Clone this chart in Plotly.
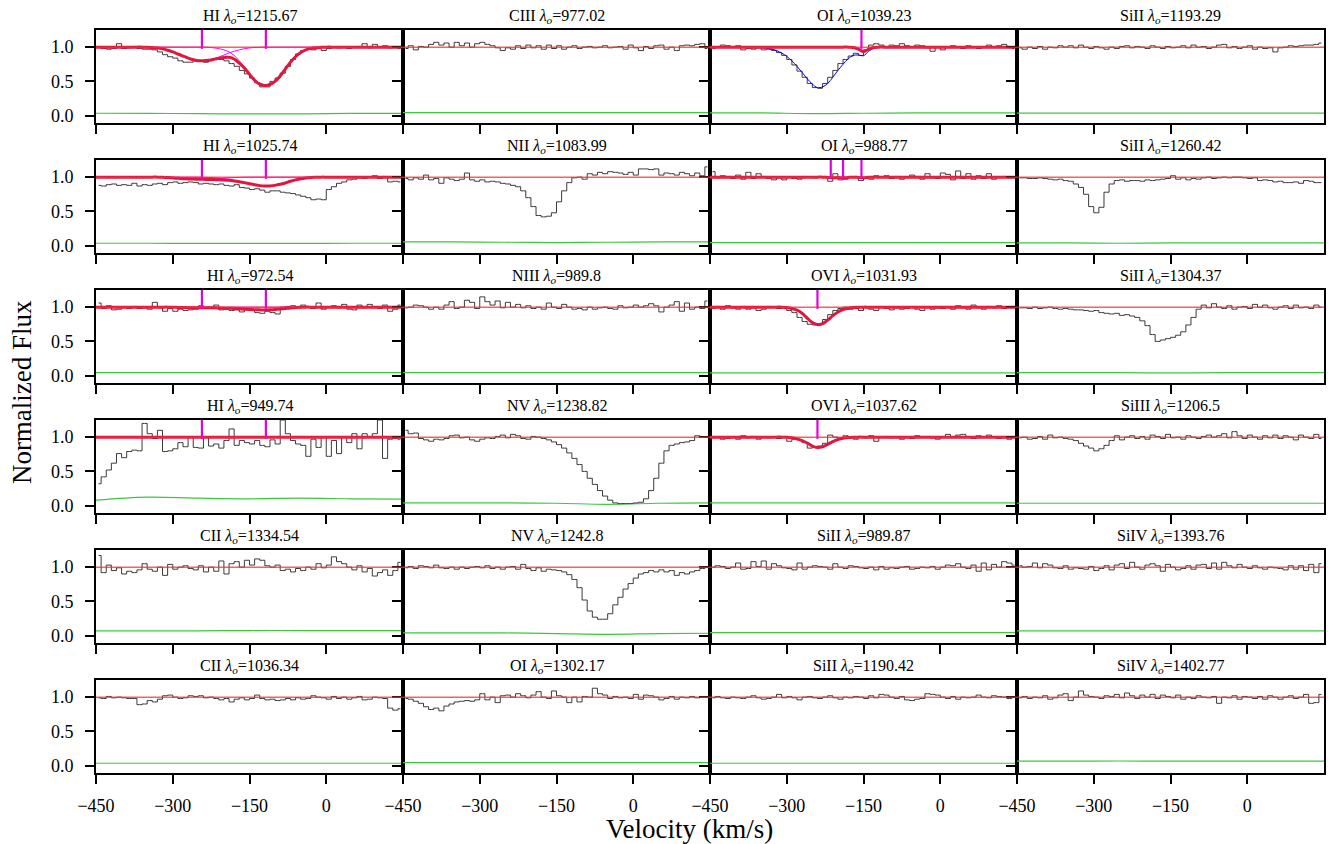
import plotly.graph_objects as go

# ---------------- grids ----------------
VEL = list(range(-445, 150, 10))          # bin centres (km/s), 60 bins
FIT_VEL = list(range(-450, 151, 10))      # model grid, 61 points
ERR_VEL = [-450, -350, -250, -150, -50, 50, 150]
X_TICKS = [-450, -300, -150, 0]
X_TICK_TEXT = ["\u2212450", "\u2212300", "\u2212150", "0"]
Y_TICKS = [0.0, 0.5, 1.0]
CONTINUUM = 1.0

# ---------------- panel labels (row-major) ----------------
IONS = ["HI", "CIII", "OI", "SiII",
        "HI", "NII", "OI", "SiII",
        "HI", "NIII", "OVI", "SiII",
        "HI", "NV", "OVI", "SiIII",
        "CII", "NV", "SiII", "SiIV",
        "CII", "OI", "SiII", "SiIV"]
LAMBDAS = ["1215.67", "977.02", "1039.23", "1193.29",
           "1025.74", "1083.99", "988.77", "1260.42",
           "972.54", "989.8", "1031.93", "1304.37",
           "949.74", "1238.82", "1037.62", "1206.5",
           "1334.54", "1242.8", "989.87", "1393.76",
           "1036.34", "1302.17", "1190.42", "1402.77"]

# ---------------- normalized flux ----------------
FLUX_HI_1215 = [1.01, 0.98, 0.97, 0.98, 1.05, 0.98, 0.99, 1.01, 0.98, 0.97,
                0.97, 0.96, 0.93, 0.89, 0.86, 0.84, 0.80, 0.78, 0.78, 0.80,
                0.79, 0.78, 0.82, 0.83, 0.82, 0.80, 0.76, 0.72, 0.66, 0.61,
                0.55, 0.48, 0.42, 0.42, 0.50, 0.55, 0.62, 0.72, 0.82, 0.90,
                0.95, 0.97, 0.96, 0.99, 0.95, 0.98, 1.00, 0.99, 1.00, 0.98,
                1.00, 1.01, 1.05, 0.99, 1.04, 1.00, 1.02, 0.99, 1.01, 0.98]
FLUX_CIII_977 = [0.98, 1.02, 0.96, 1.01, 1.00, 1.04, 1.07, 1.03, 1.06, 1.00,
                 1.07, 1.02, 1.06, 1.00, 1.05, 1.07, 1.04, 1.02, 0.99, 0.95,
                 0.99, 0.97, 1.02, 0.98, 1.03, 0.99, 1.02, 0.97, 1.03, 0.98,
                 1.02, 0.97, 1.00, 1.02, 0.98, 1.00, 1.01, 0.99, 1.00, 1.02,
                 0.99, 1.00, 1.01, 0.97, 1.03, 0.99, 0.95, 1.01, 0.98, 1.02,
                 1.03, 0.97, 1.00, 0.95, 1.02, 1.03, 1.02, 1.04, 1.05, 0.98]
FLUX_OI_1039 = [0.98, 1.00, 1.03, 1.02, 1.00, 1.02, 0.96, 0.98, 0.97, 0.99,
                0.96, 0.97, 0.95, 0.92, 0.88, 0.82, 0.74, 0.65, 0.56, 0.47,
                0.41, 0.40, 0.47, 0.56, 0.66, 0.76, 0.82, 0.87, 0.91, 0.88,
                0.96, 1.03, 1.05, 1.03, 1.00, 1.03, 1.02, 1.05, 1.02, 1.00,
                1.03, 1.02, 0.99, 0.94, 1.00, 0.96, 1.00, 1.02, 1.00, 0.98,
                1.02, 1.00, 0.98, 1.00, 1.03, 1.00, 1.02, 1.04, 1.00, 0.98]
FLUX_SiII_1193 = [0.99, 0.97, 1.00, 0.98, 1.01, 0.97, 1.00, 0.99, 1.02, 1.00,
                  1.02, 0.99, 1.03, 1.00, 0.98, 1.01, 0.99, 0.97, 1.00, 0.98,
                  1.01, 1.02, 0.99, 1.01, 1.00, 0.98, 1.02, 1.00, 0.98, 1.01,
                  0.99, 1.00, 1.02, 0.99, 1.03, 1.00, 1.01, 0.98, 1.00, 1.03,
                  1.04, 0.99, 1.01, 0.98, 1.00, 1.02, 0.97, 1.00, 0.98, 0.99,
                  0.93, 0.99, 1.00, 1.02, 1.01, 1.02, 1.03, 1.03, 1.04, 1.06]
FLUX_HI_1025 = [0.88, 0.87, 0.89, 0.90, 0.88, 0.89, 0.88, 0.91, 0.87, 0.89,
                0.88, 0.90, 0.91, 0.89, 0.92, 0.93, 0.91, 0.92, 0.93, 0.92,
                0.90, 0.91, 0.90, 0.89, 0.90, 0.88, 0.87, 0.89, 0.85, 0.84,
                0.82, 0.83, 0.81, 0.78, 0.80, 0.80, 0.78, 0.77, 0.76, 0.74,
                0.72, 0.70, 0.67, 0.68, 0.67, 0.82, 0.86, 0.91, 0.93, 0.96,
                0.97, 0.99, 0.98, 1.00, 1.02, 0.98, 1.01, 0.93, 0.94, 0.93]
FLUX_NII_1084 = [0.98, 0.96, 0.99, 0.97, 1.03, 0.96, 0.98, 0.91, 0.99, 0.97,
                 0.95, 0.97, 1.06, 0.96, 0.94, 0.96, 0.93, 0.94, 0.93, 0.91,
                 0.90, 0.88, 0.86, 0.80, 0.70, 0.57, 0.44, 0.42, 0.43, 0.48,
                 0.64, 0.80, 0.92, 0.99, 1.00, 0.97, 1.05, 1.03, 1.07, 1.05,
                 1.08, 1.07, 1.06, 1.04, 1.07, 1.03, 1.12, 1.12, 1.11, 1.12,
                 1.03, 1.06, 1.05, 1.03, 1.07, 1.05, 1.02, 1.06, 1.02, 1.15]
FLUX_OI_988 = [1.08, 0.99, 1.02, 1.01, 0.98, 1.03, 0.97, 1.07, 0.98, 1.05,
               1.01, 0.98, 0.96, 0.99, 0.96, 1.00, 0.98, 0.97, 1.01, 1.00,
               0.99, 1.00, 1.01, 0.94, 1.05, 0.96, 0.97, 1.00, 1.01, 0.95,
               0.98, 0.97, 1.02, 1.00, 1.02, 0.98, 1.01, 0.97, 1.00, 1.03,
               1.01, 0.97, 1.05, 0.99, 0.98, 1.06, 1.04, 0.96, 1.09, 0.98,
               1.05, 0.97, 1.02, 0.98, 1.05, 0.97, 1.00, 1.01, 0.99, 1.00]
FLUX_SiII_1260 = [0.99, 0.99, 0.98, 0.98, 0.99, 0.98, 0.97, 0.96, 0.97, 0.95,
                  0.94, 0.90, 0.85, 0.75, 0.57, 0.48, 0.56, 0.78, 0.90, 0.95,
                  0.96, 0.94, 0.95, 0.95, 0.94, 0.96, 0.95, 0.96, 0.97, 0.98,
                  1.02, 0.97, 0.99, 0.96, 0.98, 0.97, 0.99, 1.00, 0.98, 0.99,
                  1.00, 0.99, 1.00, 1.00, 0.99, 0.98, 0.99, 0.95, 0.96, 0.95,
                  0.93, 0.94, 0.92, 0.92, 0.93, 0.91, 0.95, 0.94, 0.92, 0.92]
FLUX_HI_972 = [1.06, 0.98, 1.02, 0.96, 0.97, 1.00, 0.98, 1.01, 0.98, 0.99,
               0.97, 1.07, 0.99, 0.94, 0.98, 0.94, 0.97, 0.95, 0.96, 0.97,
               1.02, 0.98, 1.00, 1.03, 0.96, 0.97, 0.95, 0.96, 0.93, 0.96,
               0.95, 0.92, 0.91, 0.94, 0.92, 0.90, 1.00, 1.01, 1.02, 0.99,
               1.03, 1.00, 0.98, 1.06, 0.97, 1.00, 1.02, 0.99, 1.04, 0.97,
               0.96, 1.03, 0.99, 1.04, 1.00, 0.98, 1.03, 0.94, 0.97, 1.03]
FLUX_NIII_990 = [0.99, 1.00, 1.03, 1.02, 1.00, 0.97, 1.00, 0.97, 1.03, 1.08,
                 0.98, 1.00, 1.10, 1.07, 0.98, 1.15, 1.08, 1.03, 1.09, 0.99,
                 1.07, 1.00, 1.04, 0.99, 1.02, 0.98, 1.00, 0.97, 1.06, 1.00,
                 0.98, 1.04, 1.00, 0.97, 0.98, 0.96, 1.00, 0.97, 0.99, 1.00,
                 0.98, 0.97, 1.02, 0.99, 1.00, 1.03, 1.00, 1.02, 1.05, 1.02,
                 0.93, 1.00, 1.03, 1.08, 0.94, 1.06, 0.97, 1.00, 0.98, 1.09]
FLUX_OVI_1032 = [0.98, 1.01, 0.97, 1.02, 0.99, 0.97, 1.01, 0.97, 0.99, 0.95,
                 0.97, 1.01, 1.00, 0.98, 1.01, 0.95, 0.92, 0.85, 0.79, 0.75,
                 0.74, 0.76, 0.82, 0.89, 0.95, 0.98, 1.00, 0.97, 0.98, 0.95,
                 0.99, 0.97, 0.95, 1.00, 0.98, 0.96, 0.99, 0.97, 0.98, 1.00,
                 0.97, 0.95, 1.00, 0.97, 0.99, 0.98, 1.00, 0.97, 1.02, 0.99,
                 0.97, 1.03, 0.99, 0.97, 1.01, 0.99, 1.02, 0.98, 1.00, 1.01]
FLUX_SiII_1304 = [0.99, 0.99, 0.98, 1.00, 0.98, 0.99, 1.00, 0.98, 0.97, 0.98,
                  0.97, 0.96, 0.96, 0.95, 0.94, 0.95, 0.92, 0.91, 0.90, 0.91,
                  0.88, 0.89, 0.87, 0.85, 0.80, 0.73, 0.60, 0.50, 0.52, 0.54,
                  0.56, 0.59, 0.64, 0.74, 0.85, 0.97, 1.03, 0.99, 1.05, 1.00,
                  0.98, 1.02, 0.97, 1.00, 1.01, 0.98, 1.04, 1.00, 1.03, 0.99,
                  0.97, 1.00, 1.02, 0.98, 1.03, 0.99, 1.00, 0.98, 1.03, 1.00]
FLUX_HI_950 = [0.32, 0.42, 0.52, 0.62, 0.76, 0.70, 0.79, 0.81, 0.80, 1.20,
               1.05, 0.98, 1.10, 0.79, 0.80, 0.83, 0.92, 0.86, 1.00, 0.85,
               0.84, 1.00, 0.87, 0.90, 0.84, 0.95, 1.12, 0.88, 0.95, 0.92,
               0.90, 0.95, 0.88, 0.86, 0.96, 0.90, 1.25, 1.05, 0.95, 0.90,
               0.88, 0.72, 0.97, 0.85, 1.00, 0.72, 0.95, 0.76, 1.00, 0.92,
               1.05, 0.83, 1.05, 1.00, 1.05, 1.25, 0.69, 0.97, 0.98, 0.97]
FLUX_NV_1239 = [1.10, 1.05, 1.06, 0.98, 0.96, 0.94, 0.97, 0.96, 0.98, 1.02,
                1.03, 0.99, 1.00, 0.96, 0.94, 0.97, 0.99, 0.98, 1.01, 1.03,
                0.99, 1.04, 1.02, 0.98, 0.97, 1.01, 1.00, 0.98, 0.96, 0.93,
                0.89, 0.84, 0.77, 0.69, 0.60, 0.50, 0.40, 0.31, 0.22, 0.14,
                0.08, 0.04, 0.03, 0.03, 0.03, 0.04, 0.05, 0.10, 0.22, 0.40,
                0.62, 0.80, 0.88, 0.90, 0.92, 0.93, 0.95, 1.02, 1.00, 1.01]
FLUX_OVI_1038 = [0.99, 1.00, 0.97, 0.98, 1.00, 0.97, 1.02, 0.99, 1.01, 0.97,
                 1.00, 0.99, 1.00, 0.98, 1.01, 0.94, 0.97, 0.96, 0.92, 0.84,
                 0.85, 0.87, 0.91, 1.03, 1.00, 0.98, 1.02, 1.00, 0.97, 1.01,
                 0.99, 1.02, 0.94, 1.00, 1.01, 0.99, 1.00, 0.97, 1.00, 0.98,
                 1.02, 1.00, 1.01, 0.99, 0.97, 1.00, 1.04, 1.00, 1.03, 1.04,
                 1.00, 0.98, 1.02, 1.00, 1.03, 1.00, 0.98, 1.00, 0.97, 1.00]
FLUX_SiIII_1206 = [0.99, 1.00, 0.97, 0.98, 1.01, 0.97, 1.03, 0.99, 1.00, 0.98,
                   0.97, 0.95, 0.91, 0.87, 0.84, 0.80, 0.83, 0.88, 0.95, 1.02,
                   0.96, 1.00, 1.02, 0.98, 1.01, 0.97, 1.03, 1.01, 0.98, 1.04,
                   0.99, 1.00, 0.97, 1.02, 1.00, 0.98, 1.01, 1.03, 1.00, 1.02,
                   1.05, 0.99, 1.08, 1.02, 0.98, 1.03, 1.00, 0.97, 1.02, 0.99,
                   1.03, 0.98, 1.02, 1.00, 0.96, 1.03, 1.00, 0.98, 1.04, 0.98]
FLUX_CII_1335 = [1.17, 0.92, 1.03, 0.95, 0.99, 0.90, 0.94, 0.92, 0.96, 1.05,
                 0.97, 0.94, 1.00, 0.88, 1.04, 0.97, 1.00, 1.02, 0.98, 0.96,
                 1.02, 0.93, 1.00, 0.94, 1.09, 0.90, 1.05, 1.08, 1.00, 1.10,
                 1.03, 1.12, 1.10, 1.02, 1.00, 1.03, 0.95, 0.97, 0.93, 0.98,
                 0.95, 1.00, 0.97, 1.05, 0.99, 1.03, 1.15, 1.08, 1.05, 1.00,
                 0.96, 1.02, 0.93, 0.98, 0.87, 0.92, 0.96, 0.88, 0.95, 1.07]
FLUX_NV_1243 = [0.99, 1.01, 0.98, 1.02, 1.01, 0.99, 1.03, 0.99, 0.98, 1.00,
                0.97, 1.00, 0.98, 1.00, 1.01, 0.99, 1.02, 0.98, 1.00, 0.97,
                1.00, 1.01, 0.97, 1.04, 0.98, 0.95, 0.99, 0.94, 0.97, 0.96,
                0.95, 0.93, 0.89, 0.82, 0.70, 0.52, 0.36, 0.27, 0.24, 0.24,
                0.32, 0.45, 0.56, 0.68, 0.76, 0.84, 0.90, 0.92, 0.95, 0.93,
                0.96, 0.93, 0.95, 0.88, 0.92, 0.90, 0.93, 0.95, 0.98, 1.00]
FLUX_SiII_990 = [1.00, 1.02, 1.01, 0.98, 1.00, 1.06, 0.97, 0.98, 1.08, 1.01,
                 1.09, 0.97, 1.05, 1.02, 0.99, 0.98, 0.96, 1.06, 0.97, 1.00,
                 1.02, 1.01, 1.00, 0.97, 1.05, 1.00, 0.98, 1.02, 1.01, 0.99,
                 0.98, 1.00, 0.96, 1.01, 0.97, 0.99, 0.98, 1.00, 1.01, 0.97,
                 0.98, 1.00, 0.99, 1.01, 0.97, 1.00, 1.03, 1.02, 1.05, 1.00,
                 0.98, 1.03, 0.94, 1.06, 0.96, 1.04, 1.00, 1.08, 1.06, 1.03]
FLUX_SiIV_1394 = [1.02, 1.00, 1.01, 1.06, 0.99, 1.05, 1.03, 0.99, 0.98, 1.02,
                  0.97, 0.99, 0.98, 0.97, 1.01, 0.95, 0.98, 1.02, 0.96, 1.03,
                  1.05, 0.98, 1.07, 1.00, 0.97, 1.03, 1.05, 1.02, 0.94, 1.04,
                  1.00, 0.96, 0.98, 1.02, 0.97, 1.03, 1.04, 0.98, 1.06, 0.97,
                  1.07, 1.02, 0.99, 1.04, 1.00, 0.98, 1.02, 0.99, 0.97, 1.00,
                  0.99, 0.98, 0.96, 1.02, 0.97, 1.02, 0.95, 1.04, 0.92, 1.05]
FLUX_CII_1036 = [0.99, 0.98, 1.01, 0.99, 1.00, 0.99, 0.98, 0.98, 0.89, 0.90,
                 0.95, 0.93, 0.97, 1.02, 1.03, 1.00, 0.98, 0.99, 1.02, 1.01,
                 1.02, 0.99, 1.00, 0.98, 0.96, 0.98, 0.93, 0.97, 0.99, 0.96,
                 0.98, 1.03, 0.98, 0.96, 0.97, 0.95, 0.96, 0.98, 0.96, 0.99,
                 0.97, 0.98, 1.02, 1.00, 0.99, 0.97, 1.01, 0.98, 1.00, 0.97,
                 0.99, 1.01, 0.96, 0.97, 1.00, 0.99, 0.98, 0.84, 0.81, 0.83]
FLUX_OI_1302 = [0.98, 0.97, 0.94, 0.91, 0.86, 0.82, 0.84, 0.80, 0.87, 0.90,
                0.93, 0.94, 0.95, 0.94, 0.96, 1.05, 0.96, 1.00, 0.92, 1.02,
                1.03, 1.00, 1.05, 1.02, 0.99, 1.03, 1.08, 1.00, 0.98, 1.09,
                1.02, 1.00, 0.92, 1.00, 0.93, 1.01, 1.00, 1.13, 1.05, 1.03,
                0.98, 1.01, 0.99, 1.00, 0.98, 1.04, 0.97, 1.03, 1.02, 1.00,
                0.96, 0.98, 1.01, 0.97, 1.00, 0.99, 1.01, 0.99, 1.00, 1.00]
FLUX_SiII_1190 = [0.99, 1.01, 0.99, 0.98, 1.00, 0.99, 0.98, 1.00, 1.02, 0.99,
                  0.97, 0.98, 1.00, 1.04, 0.99, 1.01, 0.99, 0.96, 1.00, 1.01,
                  0.99, 0.98, 1.00, 1.02, 0.99, 0.97, 1.00, 0.99, 1.01, 1.00,
                  0.98, 1.02, 0.99, 1.04, 1.03, 1.00, 0.98, 1.01, 0.96, 0.95,
                  0.97, 0.98, 1.05, 1.04, 1.03, 1.00, 0.98, 1.01, 0.97, 1.00,
                  0.99, 1.00, 1.03, 1.00, 0.99, 1.02, 1.01, 1.00, 0.98, 1.00]
FLUX_SiIV_1403 = [0.99, 1.01, 0.98, 1.00, 0.99, 1.02, 0.97, 0.99, 1.03, 1.05,
                  0.95, 1.00, 1.09, 1.03, 1.01, 1.00, 0.98, 1.02, 1.01, 1.04,
                  0.99, 1.06, 1.02, 0.98, 1.03, 1.00, 1.04, 0.98, 1.03, 1.01,
                  0.99, 1.03, 0.97, 1.00, 0.98, 1.02, 1.00, 0.99, 1.01, 0.91,
                  1.00, 0.99, 1.02, 0.97, 1.01, 1.00, 0.98, 1.01, 0.97, 1.02,
                  1.00, 0.97, 1.00, 1.02, 0.98, 1.00, 1.04, 0.91, 0.92, 1.04]

FLUXES = [FLUX_HI_1215, FLUX_CIII_977, FLUX_OI_1039, FLUX_SiII_1193,
          FLUX_HI_1025, FLUX_NII_1084, FLUX_OI_988, FLUX_SiII_1260,
          FLUX_HI_972, FLUX_NIII_990, FLUX_OVI_1032, FLUX_SiII_1304,
          FLUX_HI_950, FLUX_NV_1239, FLUX_OVI_1038, FLUX_SiIII_1206,
          FLUX_CII_1335, FLUX_NV_1243, FLUX_SiII_990, FLUX_SiIV_1394,
          FLUX_CII_1036, FLUX_OI_1302, FLUX_SiII_1190, FLUX_SiIV_1403]

# ---------------- flux errors (sampled at ERR_VEL) ----------------
ERRORS = [
    [0.035, 0.033, 0.030, 0.025, 0.027, 0.032, 0.034],
    [0.045, 0.045, 0.045, 0.045, 0.045, 0.045, 0.045],
    [0.040, 0.040, 0.030, 0.035, 0.040, 0.040, 0.040],
    [0.036, 0.036, 0.036, 0.036, 0.036, 0.036, 0.036],
    [0.035, 0.035, 0.034, 0.033, 0.034, 0.035, 0.035],
    [0.055, 0.055, 0.050, 0.045, 0.050, 0.055, 0.055],
    [0.045, 0.045, 0.045, 0.045, 0.045, 0.045, 0.045],
    [0.040, 0.040, 0.035, 0.040, 0.040, 0.040, 0.040],
    [0.045, 0.045, 0.045, 0.045, 0.045, 0.045, 0.045],
    [0.045, 0.045, 0.045, 0.045, 0.045, 0.045, 0.045],
    [0.040, 0.040, 0.040, 0.040, 0.040, 0.040, 0.040],
    [0.045, 0.045, 0.045, 0.040, 0.045, 0.045, 0.045],
    [0.080, 0.125, 0.110, 0.100, 0.110, 0.100, 0.095],
    [0.040, 0.040, 0.040, 0.035, 0.020, 0.035, 0.040],
    [0.040, 0.040, 0.040, 0.040, 0.040, 0.040, 0.040],
    [0.035, 0.035, 0.035, 0.035, 0.035, 0.035, 0.035],
    [0.070, 0.070, 0.070, 0.075, 0.075, 0.075, 0.075],
    [0.040, 0.040, 0.040, 0.030, 0.020, 0.030, 0.035],
    [0.045, 0.045, 0.045, 0.045, 0.045, 0.045, 0.045],
    [0.070, 0.070, 0.070, 0.070, 0.070, 0.070, 0.070],
    [0.035, 0.035, 0.035, 0.035, 0.035, 0.035, 0.035],
    [0.045, 0.045, 0.045, 0.045, 0.045, 0.045, 0.045],
    [0.035, 0.035, 0.035, 0.035, 0.035, 0.035, 0.035],
    [0.065, 0.065, 0.068, 0.065, 0.065, 0.065, 0.065],
]

# ---------------- Voigt-profile fits (on FIT_VEL) ----------------
FIT_HI_1215 = [1.0] * 10 + [0.997, 0.993, 0.987, 0.975, 0.955, 0.93, 0.90, 0.87, 0.84, 0.815,
                            0.802, 0.80,
                            0.808, 0.822, 0.836, 0.85, 0.851, 0.827, 0.768, 0.694, 0.603, 0.517,
                            0.459, 0.44, 0.455, 0.50, 0.58, 0.68, 0.78, 0.86, 0.92, 0.96,
                            0.98, 0.992, 0.997] + [1.0] * 16
COMP1_HI_1215 = [1.0] * 10 + [0.997, 0.993, 0.987, 0.975, 0.955, 0.93, 0.90, 0.87, 0.84, 0.815,
                              0.802, 0.80, 0.81, 0.83, 0.855, 0.885, 0.915, 0.94, 0.96, 0.977,
                              0.988, 0.995, 0.998] + [1.0] * 28
COMP2_HI_1215 = [1.0] * 22 + [0.997, 0.99, 0.978, 0.96, 0.93, 0.88, 0.80, 0.71, 0.61, 0.52,
                              0.46, 0.44, 0.455, 0.50, 0.58, 0.68, 0.78, 0.86, 0.92, 0.96,
                              0.98, 0.992, 0.997] + [1.0] * 16
FIT_HI_1025 = [1.0] * 13 + [0.997, 0.993, 0.988, 0.983, 0.978, 0.974, 0.971, 0.97,
                            0.968, 0.966, 0.964, 0.961, 0.958, 0.953, 0.945, 0.934, 0.92, 0.903,
                            0.888, 0.876, 0.87, 0.872, 0.88, 0.895, 0.915, 0.94, 0.96, 0.977,
                            0.988, 0.995, 0.998] + [1.0] * 17
COMP1_HI_1025 = [1.0] * 13 + [0.997, 0.993, 0.988, 0.983, 0.978, 0.974, 0.971, 0.97, 0.97, 0.971,
                              0.974, 0.978, 0.983, 0.988, 0.993, 0.997] + [1.0] * 32
COMP2_HI_1025 = [1.0] * 21 + [0.998, 0.995, 0.99, 0.983, 0.975, 0.965, 0.952, 0.937, 0.92, 0.903,
                              0.888, 0.876, 0.87, 0.872, 0.88, 0.895, 0.915, 0.94, 0.96, 0.977,
                              0.988, 0.995, 0.998] + [1.0] * 17
FIT_HI_972 = [1.0] * 15 + [0.998, 0.996, 0.994, 0.992, 0.991, 0.99, 0.99, 0.991,
                           0.99, 0.989, 0.986, 0.983, 0.98, 0.975, 0.97, 0.966, 0.962, 0.96,
                           0.958, 0.96, 0.965, 0.972, 0.98, 0.988, 0.994, 0.998] + [1.0] * 20
COMP1_HI_972 = [1.0] * 15 + [0.998, 0.996, 0.994, 0.992, 0.991, 0.99, 0.99, 0.991, 0.992, 0.994,
                             0.996, 0.998] + [1.0] * 34
COMP2_HI_972 = [1.0] * 23 + [0.998, 0.995, 0.99, 0.985, 0.98, 0.975, 0.97, 0.966, 0.962, 0.96,
                             0.958, 0.96, 0.965, 0.972, 0.98, 0.988, 0.994, 0.998] + [1.0] * 20
FIT_HI_950 = [1.0] * 61
FIT_OI_1039 = [1.0] * 28 + [0.995, 0.97, 0.935, 0.97, 0.995] + [1.0] * 28
BLEND_OI_1039 = [1.0] * 9 + [0.997, 0.993, 0.985, 0.972, 0.95, 0.915, 0.865, 0.80, 0.72, 0.63,
                             0.54, 0.46, 0.41, 0.42, 0.47, 0.56, 0.66, 0.75, 0.83, 0.88,
                             0.885, 0.875, 0.94, 0.985] + [1.0] * 28
FIT_OI_988 = [1.0] * 23 + [0.995, 0.99, 0.995, 0.99, 0.995, 1.0, 0.995, 0.99, 0.998] + [1.0] * 29
FIT_OVI_1032 = [1.0] * 15 + [0.995, 0.98, 0.955, 0.91, 0.84, 0.775, 0.745, 0.76, 0.81, 0.875,
                             0.93, 0.965, 0.985, 0.994, 0.998] + [1.0] * 31
FIT_OVI_1038 = [1.0] * 15 + [0.997, 0.99, 0.975, 0.95, 0.915, 0.87, 0.85, 0.86, 0.895, 0.935,
                             0.965, 0.983, 0.993, 0.998, 1.0] + [1.0] * 31

# component velocities (magenta markers), km/s
MARK_HI = [-243, -118]
MARK_OI_1039 = [-154]
MARK_OI_988 = [-214, -190, -154]
MARK_OVI = [-240]

# panel index -> (total fit, components, blend, markers)
MODELS = {
    0: (FIT_HI_1215, [COMP1_HI_1215, COMP2_HI_1215], None, MARK_HI),
    2: (FIT_OI_1039, [], BLEND_OI_1039, MARK_OI_1039),
    4: (FIT_HI_1025, [COMP1_HI_1025, COMP2_HI_1025], None, MARK_HI),
    6: (FIT_OI_988, [], None, MARK_OI_988),
    8: (FIT_HI_972, [COMP1_HI_972, COMP2_HI_972], None, MARK_HI),
    10: (FIT_OVI_1032, [], None, MARK_OVI),
    12: (FIT_HI_950, [FIT_HI_950, FIT_HI_950], None, MARK_HI),
    14: (FIT_OVI_1038, [], None, MARK_OVI),
}

for f in FLUXES:
    assert len(f) == len(VEL), len(f)
for m in MODELS.values():
    assert len(m[0]) == len(FIT_VEL), len(m[0])
    for c in m[1]:
        assert len(c) == len(FIT_VEL), len(c)
    if m[2] is not None:
        assert len(m[2]) == len(FIT_VEL)

# ---------------- layout geometry ----------------
W, H = 1334, 844
ML, MR, MT, MB = 96, 8, 30, 71
NROWS, NCOLS = 6, 4
PANEL_H, ROW_STEP = 93, 130
AREA_H = H - MT - MB
AREA_W = W - ML - MR
Y_RANGE = [-0.107, 1.25]
X_RANGE = [-450, 150]
MARK_LO, MARK_TOP = 0.975, 1.25

SERIF = "Liberation Serif, DejaVu Serif, serif"

fig = go.Figure()
layout_axes = {}
annotations = []
shapes = []

for i in range(NROWS * NCOLS):
    r, c = divmod(i, NCOLS)
    k = i + 1
    xa = "x" if k == 1 else f"x{k}"
    ya = "y" if k == 1 else f"y{k}"
    top = 1 - (ROW_STEP * r) / AREA_H
    bot = top - PANEL_H / AREA_H

    layout_axes["xaxis" if k == 1 else f"xaxis{k}"] = dict(
        domain=[c / NCOLS, (c + 1) / NCOLS], anchor=ya, range=X_RANGE,
        tickvals=X_TICKS, ticktext=X_TICK_TEXT,
        showticklabels=(r == NROWS - 1),
        ticks="outside", ticklen=9, tickwidth=2, tickcolor="black",
        ticklabelstandoff=6,
        showline=True, mirror=True, linewidth=2, linecolor="black",
        showgrid=False, zeroline=False,
        tickfont=dict(family=SERIF, size=18, color="black"))
    layout_axes["yaxis" if k == 1 else f"yaxis{k}"] = dict(
        domain=[bot, top], anchor=xa, range=Y_RANGE,
        tickvals=Y_TICKS, tickformat=".1f", showticklabels=(c == 0),
        ticks="outside", ticklen=9, tickwidth=2, tickcolor="black",
        ticklabelstandoff=8,
        showline=True, mirror=True, linewidth=2, linecolor="black",
        showgrid=False, zeroline=False,
        tickfont=dict(family=SERIF, size=18, color="black"))

    # continuum
    shapes.append(dict(type="line", xref=f"{xa} domain", yref=ya, x0=0, x1=1,
                       y0=CONTINUUM, y1=CONTINUUM,
                       line=dict(color="rgba(255,40,40,0.75)", width=1.5), layer="above"))

    # error spectrum
    fig.add_trace(go.Scatter(x=ERR_VEL, y=ERRORS[i], mode="lines", xaxis=xa, yaxis=ya,
                             line=dict(color="#3cc83c", width=1.2, shape="spline"),
                             showlegend=False, hoverinfo="skip"))
    # flux
    fig.add_trace(go.Scatter(x=VEL, y=FLUXES[i], mode="lines", xaxis=xa, yaxis=ya,
                             line=dict(color="#3a3a3a", width=1, shape="hvh"),
                             showlegend=False))

    if i in MODELS:
        total, comps, blend, marks = MODELS[i]
        if blend is not None:
            fig.add_trace(go.Scatter(x=FIT_VEL, y=blend, mode="lines", xaxis=xa, yaxis=ya,
                                     line=dict(color="blue", width=1, shape="spline"),
                                     showlegend=False))
        for comp in comps:
            fig.add_trace(go.Scatter(x=FIT_VEL, y=comp, mode="lines", xaxis=xa, yaxis=ya,
                                     line=dict(color="magenta", width=1, shape="spline"),
                                     showlegend=False))
        fig.add_trace(go.Scatter(x=FIT_VEL, y=total, mode="lines", xaxis=xa, yaxis=ya,
                                 line=dict(color="#e0163f", width=3, shape="spline"),
                                 showlegend=False))
        for v in marks:
            fig.add_trace(go.Scatter(x=[v, v], y=[MARK_LO, MARK_TOP], mode="lines",
                                     xaxis=xa, yaxis=ya,
                                     line=dict(color="#e000e0", width=2.2),
                                     showlegend=False, hoverinfo="skip"))

    annotations.append(dict(
        text=f"{IONS[i]} <i>\u03bb<sub>o</sub></i>={LAMBDAS[i]}",
        xref="paper", yref="paper", x=(c + 0.5) / NCOLS, y=top,
        xanchor="center", yanchor="middle", yshift=14, showarrow=False,
        font=dict(family=SERIF, size=16, color="black")))

annotations.append(dict(text="Velocity (km/s)", xref="paper", yref="paper",
                        x=(690 - ML) / AREA_W, y=-(829 - (H - MB)) / AREA_H,
                        xanchor="center", yanchor="middle", showarrow=False,
                        font=dict(family=SERIF, size=27, color="black")))
annotations.append(dict(text="Normalized Flux", xref="paper", yref="paper",
                        x=(22 - ML) / AREA_W, y=((H - MB) - 392) / AREA_H,
                        xanchor="center", yanchor="middle", textangle=-90, showarrow=False,
                        font=dict(family=SERIF, size=27, color="black")))

fig.update_layout(width=W, height=H, margin=dict(l=ML, r=MR, t=MT, b=MB),
                  paper_bgcolor="white", plot_bgcolor="white",
                  showlegend=False, annotations=annotations, shapes=shapes,
                  **layout_axes)

fig.write_html("out.html",
               config={"displayModeBar": False, "staticPlot": True},
               post_script="document.body.style.margin='0px';document.body.style.padding='0px';"
                           "document.body.style.overflow='hidden';")
